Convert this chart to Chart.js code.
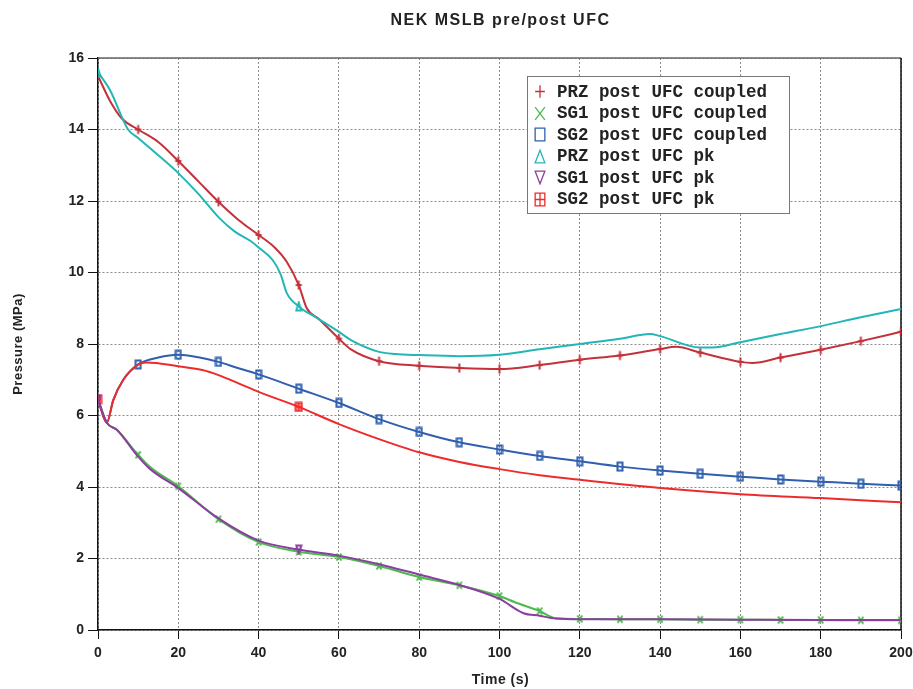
<!DOCTYPE html>
<html>
<head>
<meta charset="utf-8">
<title>NEK MSLB pre/post UFC</title>
<script src="https://cdn.jsdelivr.net/npm/chart.js@4.4.1/dist/chart.umd.min.js"></script>
<style>
    html, body { margin: 0; padding: 0; background: #fff; }
    #wrap { position: relative; width: 913px; height: 689px; }
    #legend {
        position: absolute; left: 527px; top: 76px; width: 263px; height: 138px;
        box-sizing: border-box; border: 1px solid #777; background: #fff;
        padding-top: 4px; font: bold 17.5px "Liberation Mono", monospace; color: #222;
    }
    #legend .row { display: flex; align-items: center; height: 21.5px; white-space: pre; }
    #legend canvas { margin: 0 11px 0 6px; }
</style>
</head>
<body>
<div id="wrap">
    <canvas id="chart" width="913" height="689"></canvas>
    <div id="legend"></div>
</div>
<script>
(function() {
    'use strict';

    // --- data (time in s, pressure in MPa) ---
    var przCoupledT = [0, 3, 6, 10, 15, 20, 25, 30, 35, 40, 44, 47, 50, 52, 55, 60, 63, 70, 80, 90, 100, 110, 120, 130, 140, 144, 150, 160, 163, 170, 180, 190, 200];
    var przCoupledP = [15.5, 14.8, 14.3, 14.0, 13.65, 13.12, 12.55, 11.98, 11.47, 11.05, 10.7, 10.3, 9.65, 9.0, 8.7, 8.15, 7.85, 7.52, 7.39, 7.33, 7.3, 7.41, 7.56, 7.68, 7.86, 7.92, 7.76, 7.5, 7.47, 7.62, 7.84, 8.08, 8.34];

    var sg1CoupledT = [0, 2.2, 4.7, 10, 13, 20, 30, 40, 50, 60, 70, 80, 90, 100, 104, 110, 114, 120, 130, 140, 150, 160, 170, 180, 190, 200];
    var sg1CoupledP = [6.45, 5.8, 5.6, 4.9, 4.56, 4.02, 3.1, 2.46, 2.19, 2.04, 1.79, 1.48, 1.25, 0.95, 0.77, 0.53, 0.33, 0.31, 0.3, 0.3, 0.29, 0.29, 0.28, 0.28, 0.27, 0.27];

    var sg2CoupledT = [0, 2.2, 3.8, 6.3, 10, 15, 20, 25, 30, 35, 40, 50, 60, 70, 80, 90, 100, 110, 120, 130, 140, 150, 160, 170, 180, 190, 200];
    var sg2CoupledP = [6.45, 5.8, 6.43, 7.0, 7.43, 7.62, 7.7, 7.63, 7.5, 7.32, 7.15, 6.75, 6.35, 5.9, 5.54, 5.25, 5.05, 4.87, 4.72, 4.57, 4.46, 4.37, 4.29, 4.21, 4.15, 4.09, 4.04];

    var przPkT = [0, 3, 7.5, 10, 15, 20, 25, 30, 34, 38, 40, 43.5, 45.5, 47, 50, 54.5, 60, 63, 70, 74, 80, 90, 100, 110, 120, 130, 137.5, 140, 150, 153, 160, 170, 180, 190, 200];
    var przPkP = [15.6, 15.1, 14.0, 13.76, 13.28, 12.78, 12.2, 11.55, 11.15, 10.88, 10.7, 10.35, 9.95, 9.43, 9.05, 8.73, 8.34, 8.11, 7.78, 7.72, 7.69, 7.66, 7.7, 7.85, 8.0, 8.15, 8.28, 8.22, 7.9, 7.9, 8.05, 8.28, 8.5, 8.75, 8.98];

    var sg1PkT = [0, 2.2, 4.7, 10, 13, 20, 30, 40, 50, 60, 70, 80, 90, 100, 106, 110, 114, 120, 140, 160, 180, 200];
    var sg1PkP = [6.45, 5.8, 5.6, 4.85, 4.5, 3.97, 3.12, 2.5, 2.25, 2.08, 1.84, 1.55, 1.26, 0.87, 0.47, 0.4, 0.32, 0.3, 0.3, 0.29, 0.28, 0.28];

    var sg2PkT = [0, 2.2, 3.8, 6.3, 10, 12, 20, 26, 30, 35, 40, 50, 60, 70, 80, 90, 100, 110, 120, 140, 160, 180, 200];
    var sg2PkP = [6.45, 5.8, 6.43, 7.0, 7.42, 7.48, 7.38, 7.27, 7.13, 6.9, 6.66, 6.24, 5.76, 5.34, 4.97, 4.7, 4.5, 4.33, 4.2, 3.97, 3.8, 3.69, 3.57];

    var coupledMarkT = [10, 20, 30, 40, 50, 60, 70, 80, 90, 100, 110, 120, 130, 140, 150, 160, 170, 180, 190, 200];
    var pkMarkT = [0, 50];

    var seriesNames = ['PRZ post UFC coupled', 'SG1 post UFC coupled', 'SG2 post UFC coupled',
                       'PRZ post UFC pk', 'SG1 post UFC pk', 'SG2 post UFC pk'];

    // marker glyphs drawn on small canvases
    function makeMarker(kind, color, w, h, lw) {
        var c = document.createElement('canvas');
        c.width = w; c.height = h;
        var g = c.getContext('2d');
        g.strokeStyle = color;
        g.lineWidth = lw;
        var m = lw / 2 + 0.5;
        g.beginPath();
        if (kind === 'plus') {
            g.moveTo(w / 2, m); g.lineTo(w / 2, h - m);
            g.moveTo(m, h / 2); g.lineTo(w - m, h / 2);
        } else if (kind === 'x') {
            g.moveTo(m, m); g.lineTo(w - m, h - m);
            g.moveTo(w - m, m); g.lineTo(m, h - m);
        } else if (kind === 'rect') {
            g.rect(m, m, w - 2 * m, h - 2 * m);
        } else if (kind === 'tri') {
            g.moveTo(w / 2, m); g.lineTo(w - m, h - m); g.lineTo(m, h - m); g.closePath();
        } else if (kind === 'triDown') {
            g.moveTo(m, m); g.lineTo(w - m, m); g.lineTo(w / 2, h - m); g.closePath();
        } else if (kind === 'rectGrid') {
            g.rect(m, m, w - 2 * m, h - 2 * m);
            g.moveTo(w / 2, m); g.lineTo(w / 2, h - m);
            g.moveTo(m, h / 2); g.lineTo(w - m, h / 2);
        }
        g.stroke();
        return c;
    }

    var styles = [
        { color: '#c4313b', kind: 'plus',     mw: 9, mh: 12 },
        { color: '#4dba4d', kind: 'x',        mw: 8, mh: 10 },
        { color: '#2f5fae', kind: 'rect',     mw: 8, mh: 11 },
        { color: '#22b6b6', kind: 'tri',      mw: 8, mh: 11 },
        { color: '#8a3fa0', kind: 'triDown',  mw: 8, mh: 11 },
        { color: '#ee2b2b', kind: 'rectGrid', mw: 9, mh: 11 }
    ];
    var seriesT = [przCoupledT, sg1CoupledT, sg2CoupledT, przPkT, sg1PkT, sg2PkT];
    var seriesP = [przCoupledP, sg1CoupledP, sg2CoupledP, przPkP, sg1PkP, sg2PkP];

    function toPoints(ts, ps) {
        return ts.map(function(t, i) { return { x: t, y: ps[i] }; });
    }

    var datasets = seriesNames.map(function(name, i) {
        var st = styles[i];
        var marks = i < 3 ? coupledMarkT : pkMarkT;
        return {
            label: name,
            data: toPoints(seriesT[i], seriesP[i]),
            borderColor: st.color,
            backgroundColor: st.color,
            borderWidth: 2,
            cubicInterpolationMode: 'monotone',
            pointStyle: makeMarker(st.kind, st.color, st.mw, st.mh, 2),
            pointRadius: function(ctx) {
                var p = ctx.raw;
                return p && marks.indexOf(p.x) >= 0 ? 4 : 0;
            },
            order: i < 3 ? 1 : 0
        };
    });

    var framePlugin = {
        id: 'frame',
        beforeDatasetsDraw: function(chart) {
            var a = chart.chartArea, ctx = chart.ctx;
            ctx.save();
            ctx.lineWidth = 1.5;
            ctx.strokeStyle = '#666';
            ctx.beginPath(); ctx.moveTo(a.left, a.top); ctx.lineTo(a.right, a.top); ctx.stroke();
            ctx.strokeStyle = '#111';
            ctx.beginPath(); ctx.moveTo(a.right, a.top); ctx.lineTo(a.right, a.bottom); ctx.stroke();
            ctx.restore();
        },
        afterDraw: function(chart) {
            var a = chart.chartArea, ctx = chart.ctx;
            ctx.save();
            ctx.fillStyle = '#222';
            ctx.textAlign = 'center';
            ctx.textBaseline = 'middle';
            ctx.font = 'bold 16px "Liberation Sans", Arial, sans-serif';
            ctx.letterSpacing = '1.5px';
            ctx.fillText('NEK MSLB pre/post UFC', (a.left + a.right) / 2 + 1, 21);
            ctx.font = 'bold 14px "Liberation Sans", Arial, sans-serif';
            ctx.letterSpacing = '0.5px';
            ctx.fillText('Time (s)', (a.left + a.right) / 2 + 1, 680);
            ctx.translate(18, (a.top + a.bottom) / 2);
            ctx.rotate(-Math.PI / 2);
            ctx.font = 'bold 13px "Liberation Sans", Arial, sans-serif';
            ctx.letterSpacing = '0.5px';
            ctx.fillText('Pressure (MPa)', 0, 0);
            ctx.restore();
        }
    };

    var tickFont = { family: '"Liberation Sans", Arial, sans-serif', size: 14, weight: 'bold' };

    new Chart(document.getElementById('chart'), {
        type: 'line',
        data: { datasets: datasets },
        options: {
            responsive: false,
            animation: false,
            events: [],
            layout: { padding: { top: 58, right: 12, left: 0, bottom: 0 } },
            plugins: { legend: { display: false }, title: { display: false }, tooltip: { enabled: false } },
            scales: {
                x: {
                    type: 'linear', min: 0, max: 200,
                    afterFit: function(s) { s.height = 59; s.paddingLeft = 0; s.paddingRight = 0; },
                    ticks: { stepSize: 20, color: '#222', font: tickFont, padding: 6, maxRotation: 0 },
                    grid: { color: '#8a8a8a', tickColor: '#111', tickLength: 9, lineWidth: 1 },
                    border: { display: true, color: '#111', width: 1.5, dash: [2, 2] }
                },
                y: {
                    type: 'linear', min: 0, max: 16,
                    afterFit: function(s) { s.width = 98; s.paddingTop = 0; s.paddingBottom = 0; },
                    ticks: { stepSize: 2, color: '#222', font: tickFont, padding: 4 },
                    grid: { color: '#8a8a8a', tickColor: '#111', tickLength: 10, lineWidth: 1 },
                    border: { display: true, color: '#111', width: 1.5, dash: [2, 2] }
                }
            }
        },
        plugins: [framePlugin]
    });

    // legend box inside the plot
    var legend = document.getElementById('legend');
    seriesNames.forEach(function(name, i) {
        var st = styles[i];
        var row = document.createElement('div');
        row.className = 'row';
        row.appendChild(makeMarker(st.kind, st.color, 12, 15, 1.3));
        var span = document.createElement('span');
        span.textContent = name;
        row.appendChild(span);
        legend.appendChild(row);
    });
})();
</script>
</body>
</html>
